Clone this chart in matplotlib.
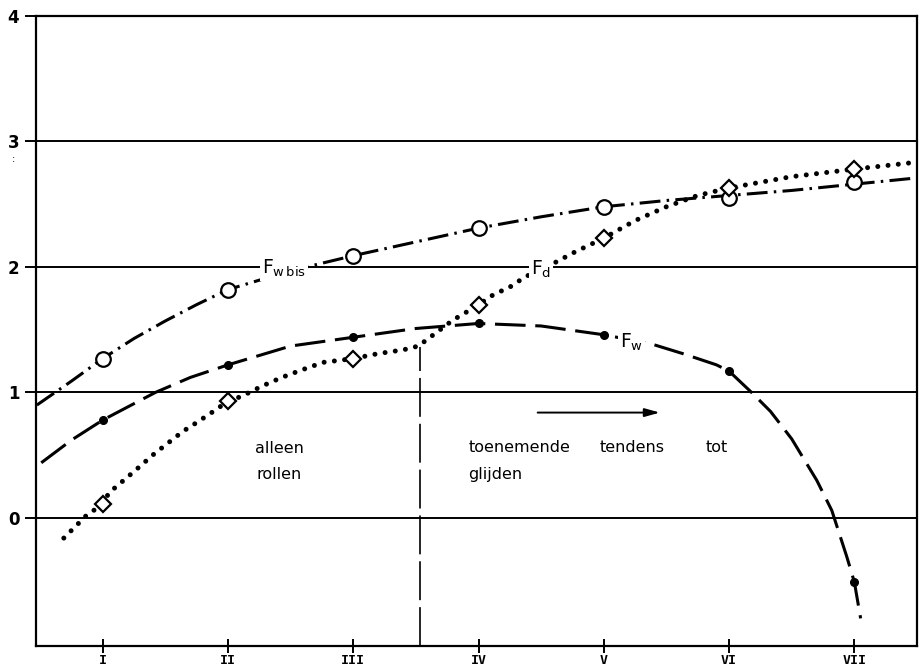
import matplotlib
matplotlib.use("Agg")
import matplotlib.pyplot as plt

plt.rcParams['lines.scale_dashes'] = False
plt.rcParams['font.family'] = ['DejaVu Sans']

# ---- data ----
positions = [1, 2, 3, 4, 5, 6, 7]
tick_labels = ["I", "II", "III", "IV", "V", "VI", "VII"]

fwbis_marks = [1.27, 1.82, 2.09, 2.31, 2.48, 2.55, 2.68]
fd_marks = [0.11, 0.93, 1.27, 1.70, 2.23, 2.63, 2.78]
fw_marks = [0.78, 1.22, 1.44, 1.55, 1.46, 1.17, -0.51]

# hand-drawn curve paths
fwbis_curve_x = [0.475, 0.75, 1.0, 1.25, 1.5, 1.75, 2.0, 2.5, 3.0, 3.5, 4.0, 4.5, 5.0, 5.5, 6.0, 6.5, 7.0, 7.5]
fwbis_curve_y = [0.90, 1.09, 1.27, 1.43, 1.57, 1.70, 1.82, 1.97, 2.09, 2.20, 2.31, 2.40, 2.48, 2.53, 2.57, 2.61, 2.66, 2.71]

fd_curve_x = [0.69, 0.75, 0.81, 0.87, 1.0, 1.05, 1.25, 1.41, 1.5, 1.64, 1.75, 1.87, 2.0, 2.11, 2.27, 2.43, 2.59, 2.76,
              3.0, 3.2, 3.4, 3.52, 3.64, 3.80, 3.87, 4.0, 4.12, 4.25, 4.37, 4.62, 4.77, 5.0, 5.25, 5.5, 5.75, 6.0,
              6.5, 7.0, 7.45]
fd_curve_y = [-0.16, -0.10, -0.04, 0.02, 0.11, 0.20, 0.37, 0.51, 0.58, 0.69, 0.76, 0.84, 0.93, 0.97, 1.05, 1.12, 1.18, 1.24,
              1.27, 1.31, 1.34, 1.37, 1.46, 1.58, 1.62, 1.70, 1.78, 1.84, 1.92, 2.04, 2.12, 2.23, 2.37, 2.48, 2.57, 2.63,
              2.72, 2.78, 2.83]

fw_curve_x = [0.51, 0.75, 1.0, 1.42, 1.7, 2.0, 2.5, 3.0, 3.5, 4.0, 4.5, 5.0, 5.37, 5.63, 5.9, 6.0, 6.18, 6.33,
              6.5, 6.7, 6.82, 6.94, 7.0, 7.05]
fw_curve_y = [0.44, 0.62, 0.78, 1.00, 1.12, 1.22, 1.37, 1.44, 1.51, 1.55, 1.53, 1.46, 1.39, 1.31, 1.22, 1.17, 1.00, 0.85,
              0.63, 0.30, 0.06, -0.31, -0.51, -0.80]

divider_x = 3.53
divider_top = 1.36
yticks = [0, 1, 2, 3, 4]
gridlines = [0, 1, 2, 3]

fig = plt.figure(figsize=(9.19, 6.72), dpi=100)
ax = fig.add_axes([36/919, 26/672, 881/919, 630/672])
ax.set_xlim(0.468, 7.50)
ax.set_ylim(-1.02, 4.0)

for g in gridlines:
    ax.axhline(g, color='black', lw=1.4, zorder=1)

ax.plot([divider_x, divider_x], [-1.02, divider_top], color='black', lw=1.2,
        dashes=(28, 5), zorder=2)

# curves
ax.plot(fwbis_curve_x, fwbis_curve_y, color='black', lw=2.2,
        dashes=(15, 4.5, 1.8, 4.5), zorder=3)
ax.plot(fw_curve_x, fw_curve_y, color='black', lw=2.2, dashes=(22, 7), zorder=3)
ax.plot(fd_curve_x, fd_curve_y, color='black', lw=3.6, dashes=(0.01, 7.4),
        dash_capstyle='round', zorder=3)

# markers
ax.plot(positions, fwbis_marks, ls='none', marker='o', ms=10.5, mfc='white',
        mec='black', mew=1.6, zorder=5)
ax.plot(positions, fd_marks, ls='none', marker='D', ms=8.5, mfc='white',
        mec='black', mew=1.6, zorder=5)
ax.plot(positions, fw_marks, ls='none', marker='o', ms=5.5, mfc='black',
        mec='black', zorder=5)

# curve labels
bb = dict(facecolor='white', edgecolor='none', pad=1.5)
ax.text(2.27, 1.99, r'F$_{\mathrm{w\,bis}}$', fontsize=13.5, ha='left', va='center',
        bbox=bb, zorder=4)
ax.text(4.42, 1.98, r'F$_{\mathrm{d}}$', fontsize=13.5, ha='left', va='center',
        bbox=bb, zorder=4)
ax.text(5.13, 1.40, r'F$_{\mathrm{w}}$', fontsize=13.5, ha='left', va='center',
        bbox=bb, zorder=4)

# annotations
ax.text(2.41, 0.555, 'alleen', fontsize=11.5, ha='center', va='center')
ax.text(2.41, 0.35, 'rollen', fontsize=11.5, ha='center', va='center')
ax.text(3.92, 0.565, 'toenemende', fontsize=11.5, ha='left', va='center')
ax.text(4.97, 0.565, 'tendens', fontsize=11.5, ha='left', va='center')
ax.text(5.81, 0.565, 'tot', fontsize=11.5, ha='left', va='center')
ax.text(3.92, 0.35, 'glijden', fontsize=11.5, ha='left', va='center')
ax.annotate('', xy=(5.47, 0.84), xytext=(4.45, 0.84),
            arrowprops=dict(arrowstyle='-|>,head_length=0.9,head_width=0.25',
                            color='black', lw=1.4))

# axes styling
for s in ax.spines.values():
    s.set_linewidth(1.6)
ax.set_xticks(positions)
ax.set_xticklabels(tick_labels, fontfamily='DejaVu Sans Mono', fontsize=9.5,
                   fontweight='bold')
ax.tick_params(axis='x', direction='inout', length=10, width=1.4, pad=1)
ax.set_yticks(yticks)
ax.set_yticklabels([str(v) for v in yticks], fontsize=12, fontweight='bold')
ax.tick_params(axis='y', direction='out', length=8, width=1.4, pad=4)
ax.text(-0.025, 2.86, ':', transform=ax.get_yaxis_transform(), fontsize=7,
        ha='center', va='center')

fig.savefig('out.png', dpi=100)
